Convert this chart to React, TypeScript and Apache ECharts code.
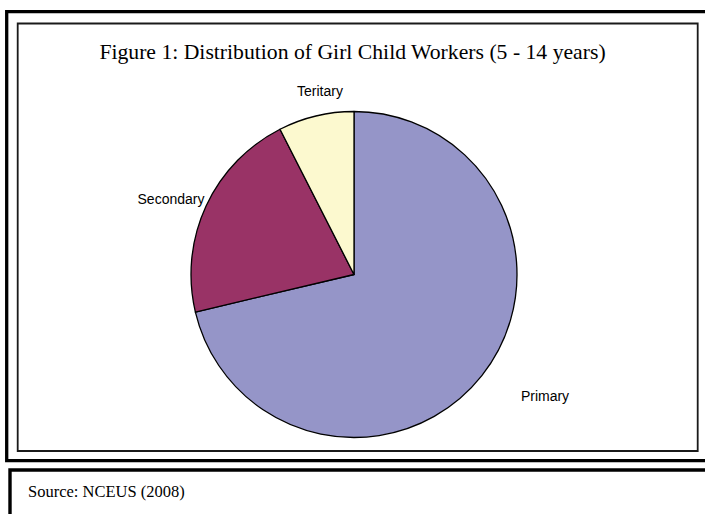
import React, { useEffect, useRef } from "react";
import * as echarts from "echarts";

const categories = ["Primary", "Secondary", "Teritary"];
const shares = [71.3, 21.2, 7.5];
const sliceColors = ["#9595C8", "#993366", "#FCF9CF"];
const titleText = "Figure 1: Distribution of Girl Child Workers (5 - 14 years)";
const sourceText = "Source: NCEUS (2008)";

// label anchor points (styling, in px)
const labelAnchors: number[][] = [
  [545, 396],
  [171, 199],
  [320, 91],
];

export default function App() {
  const ref = useRef<HTMLDivElement>(null);
  useEffect(() => {
    const chart = echarts.init(ref.current!, null, { renderer: "svg" });
    const data = categories.map((name, i) => ({
      name,
      value: shares[i],
      itemStyle: { color: sliceColors[i] },
    }));
    chart.setOption({
      animation: false,
      backgroundColor: "#ffffff",
      title: {
        text: titleText,
        left: "center",
        top: 40,
        padding: 0,
        textStyle: {
          fontFamily: "Liberation Serif",
          fontSize: 21.7,
          fontWeight: "normal",
          color: "#000",
          lineHeight: 24,
        },
      },
      graphic: [
        {
          type: "rect",
          z: 0,
          shape: { x: 6.7, y: 11.7, width: 710, height: 449 },
          style: { fill: "none", stroke: "#000", lineWidth: 3.3 },
        },
        {
          type: "rect",
          z: 0,
          shape: { x: 17.7, y: 23.5, width: 680, height: 427.5 },
          style: { fill: "none", stroke: "#1a1a1a", lineWidth: 1.8 },
        },
        {
          type: "rect",
          z: 0,
          shape: { x: 10, y: 470, width: 710, height: 60 },
          style: { fill: "none", stroke: "#000", lineWidth: 3.4 },
        },
        {
          type: "text",
          z: 1,
          x: 28,
          y: 491,
          style: {
            text: sourceText,
            fontFamily: "Liberation Serif",
            fontSize: 16.5,
            fill: "#000",
            textVerticalAlign: "middle",
          },
        },
      ],
      series: [
        {
          type: "pie",
          center: [354, 274.5],
          radius: 163,
          startAngle: 90,
          clockwise: true,
          data,
          label: {
            show: true,
            position: "outside",
            formatter: "{b}",
            fontFamily: "Liberation Sans",
            fontSize: 14,
            color: "#000",
          },
          labelLine: { show: false },
          labelLayout: (p: any) => ({
            x: labelAnchors[p.dataIndex][0],
            y: labelAnchors[p.dataIndex][1],
            align: "center",
            verticalAlign: "middle",
          }),
          itemStyle: { borderColor: "#000", borderWidth: 1.3 },
          emphasis: { disabled: true },
        },
      ],
    });
    return () => chart.dispose();
  }, []);
  return (
    <div
      ref={ref}
      style={{ position: "fixed", left: 0, top: 0, width: 705, height: 514 }}
    />
  );
}
